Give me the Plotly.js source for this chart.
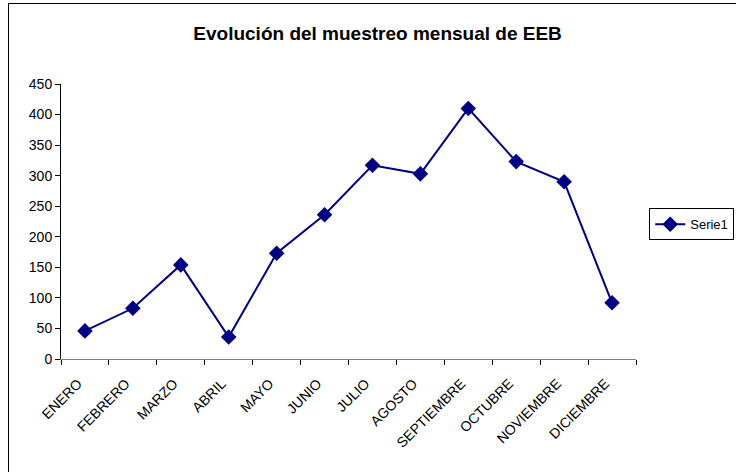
<!DOCTYPE html>
<html>
<head>
<meta charset="utf-8">
<script src="https://cdn.plot.ly/plotly-3.0.1.min.js"></script>
<style>
  html, body { margin: 0; padding: 0; background: #fff; }
  #wrap { position: relative; width: 736px; height: 472px; overflow: hidden; }
  #chart { width: 736px; height: 472px; }
  #frame { position: absolute; left: 8px; top: 3px; width: 800px; height: 600px;
           border: 1px solid #000; pointer-events: none; box-sizing: border-box; }
</style>
</head>
<body>
<div id="wrap">
  <div id="chart"></div>
  <div id="frame"></div>
</div>
<script>
const months = ["ENERO", "FEBRERO", "MARZO", "ABRIL", "MAYO", "JUNIO", "JULIO",
                "AGOSTO", "SEPTIEMBRE", "OCTUBRE", "NOVIEMBRE", "DICIEMBRE"];
const serie1 = [46, 83, 154, 36, 173, 236, 317, 303, 410, 323, 290, 92];
const yTicks = [0, 50, 100, 150, 200, 250, 300, 350, 400, 450];
const seriesName = "Serie1";
const chartTitle = "Evolución del muestreo mensual de EEB";

const trace = {
  x: months,
  y: serie1,
  name: seriesName,
  type: "scatter",
  mode: "lines+markers",
  line: { color: "#000080", width: 2 },
  marker: { symbol: "diamond", size: 12, color: "#000080" },
  showlegend: true
};

const layout = {
  width: 736, height: 472,
  margin: { l: 61, r: 100, t: 84, b: 113, autoexpand: false },
  paper_bgcolor: "#fff", plot_bgcolor: "#fff",
  font: { family: "Liberation Sans, Arial, sans-serif", size: 14, color: "#000" },
  title: { text: "<b>" + chartTitle + "</b>", font: { size: 19, color: "#000" },
           x: 0.513, xanchor: "center", y: 0.93, yanchor: "middle" },
  xaxis: {
    type: "category", range: [-0.5, months.length - 0.5],
    tickangle: -45, tickson: "boundaries",
    ticks: "outside", ticklen: 5, tickcolor: "#000",
    ticklabelstandoff: 10, ticklabelshift: -7,
    showline: true, linecolor: "#808080", linewidth: 1,
    showgrid: false, zeroline: false, fixedrange: true, automargin: false,
    tickfont: { size: 14, color: "#000" }
  },
  yaxis: {
    range: [0, 450], tickvals: yTicks, ticktext: yTicks.map(String),
    ticks: "outside", ticklen: 5, tickcolor: "#000",
    showline: true, linecolor: "#000", linewidth: 1,
    showgrid: false, zeroline: false, fixedrange: true, automargin: false,
    tickfont: { size: 14, color: "#000" }
  },
  legend: {
    x: 1.023, xanchor: "left", y: 0.49, yanchor: "middle",
    bordercolor: "#000", borderwidth: 1, bgcolor: "#fff",
    font: { size: 13, color: "#000" }, itemwidth: 30
  },
  showlegend: true
};

Plotly.newPlot("chart", [trace], layout, { displayModeBar: false, staticPlot: true });
</script>
</body>
</html>
